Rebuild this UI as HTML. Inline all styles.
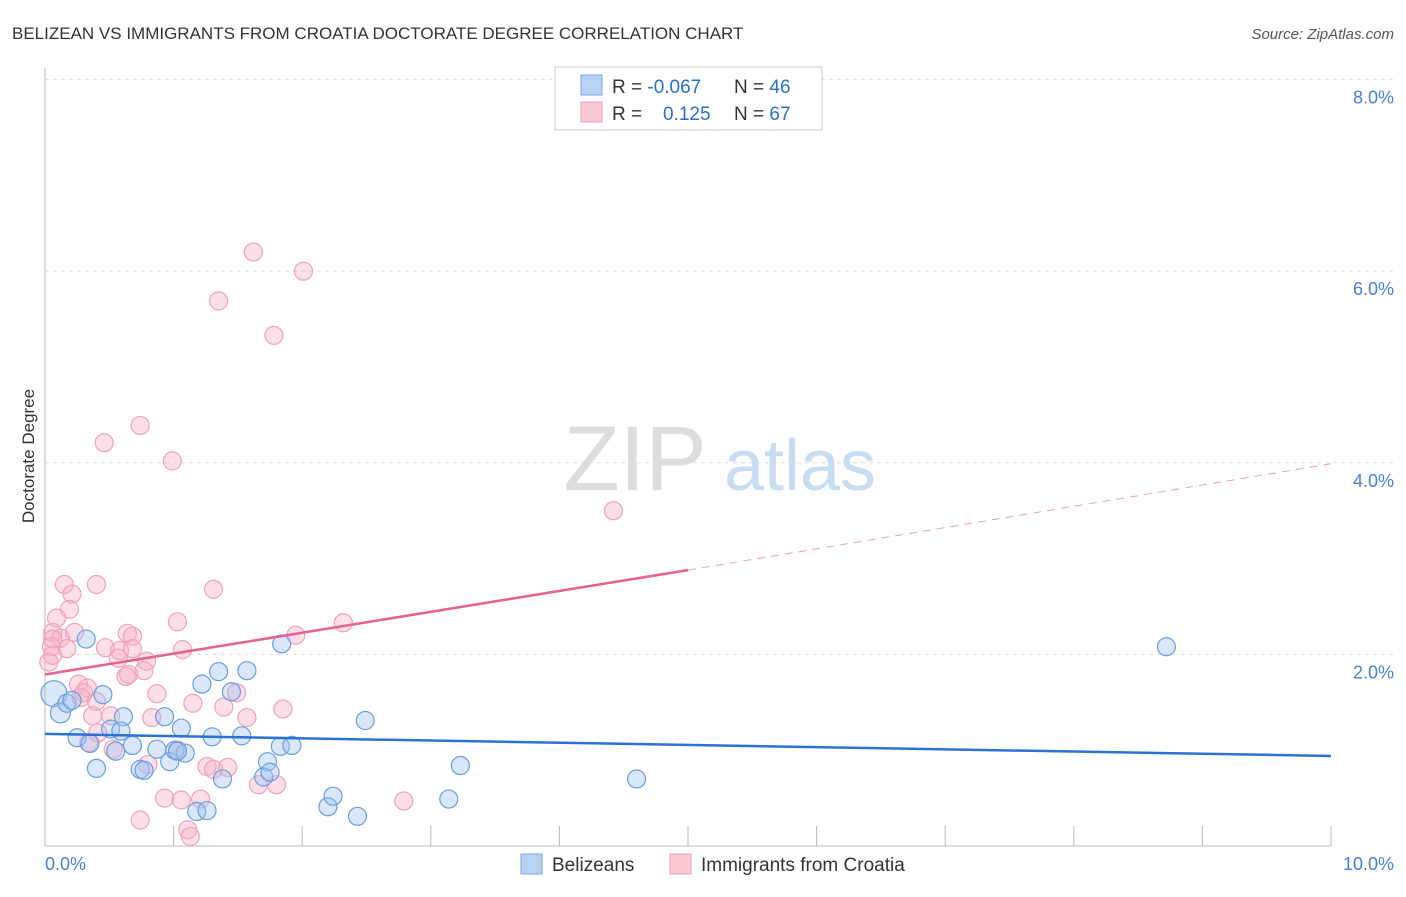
<!DOCTYPE html>
<html><head><meta charset="utf-8"><style>
body{margin:0;background:#fff;font-family:"Liberation Sans",sans-serif}
svg text{font-family:"Liberation Sans",sans-serif}
</style></head><body>
<svg id="c" width="1406" height="892" xmlns="http://www.w3.org/2000/svg">
<text x="12" y="39" font-size="17" fill="#333">BELIZEAN VS IMMIGRANTS FROM CROATIA DOCTORATE DEGREE CORRELATION CHART</text>
<text x="1394" y="39" font-size="15" fill="#555" text-anchor="end" font-style="italic">Source: ZipAtlas.com</text>
<text x="34" y="456" font-size="17" fill="#333" text-anchor="middle" transform="rotate(-90 34 456)">Doctorate Degree</text>
<g><text x="635" y="490" font-size="92" fill="#ddd" text-anchor="middle" font-family="Liberation Serif">ZIP</text><text x="800" y="490" font-size="72" fill="#c8dcf2" text-anchor="middle">atlas</text></g>
<g id="grid"></g><g id="marks"></g>
<g>
<rect x="555" y="67" width="267" height="63" fill="#fff" stroke="#ccc"/>
<rect x="581" y="75" width="21" height="20" fill="#b8d2f4" stroke="#7aa6e2"/>
<rect x="581" y="102" width="21" height="20" fill="#fbc8d6" stroke="#f0a0b8"/>
<text x="612" y="93" font-size="19" fill="#333">R = <tspan fill="#2a6fd0">-0.067</tspan></text>
<text x="734" y="93" font-size="19" fill="#333">N = <tspan fill="#2a6fd0">46</tspan></text>
<text x="612" y="120" font-size="19" fill="#333">R = <tspan fill="#2a6fd0" x="663">0.125</tspan></text>
<text x="734" y="120" font-size="19" fill="#333">N = <tspan fill="#2a6fd0">67</tspan></text>
</g>
<g>
<rect x="521" y="854" width="21" height="20" fill="#b8d2f4" stroke="#7aa6e2"/>
<text x="552" y="871" font-size="19" fill="#333">Belizeans</text>
<rect x="670" y="854" width="21" height="20" fill="#fbc8d6" stroke="#f0a0b8"/>
<text x="701" y="871" font-size="19" fill="#333">Immigrants from Croatia</text>
</g>
</svg>
<script>
const xTicks=[0,1,2,3,4,5,6,7,8,9,10];
const yTicks=[2,4,6,8];
const blueX=[0.32,1.84,0.07,0.12,0.17,0.21,0.45,0.25,0.35,0.40,0.51,0.61,0.59,0.55,0.68,0.74,0.77,0.87,0.93,0.97,1.01,1.06,1.09,1.22,1.30,1.35,1.38,1.45,1.53,1.57,1.73,1.70,1.75,1.83,1.92,2.20,2.24,2.43,2.49,3.14,3.23,4.60,8.72,1.18,1.26,1.03];
const blueY=[2.16,2.11,1.59,1.39,1.49,1.52,1.58,1.13,1.07,0.81,1.22,1.35,1.20,0.99,1.05,0.80,0.79,1.01,1.35,0.88,1.00,1.23,0.97,1.69,1.14,1.82,0.70,1.61,1.15,1.83,0.88,0.72,0.77,1.04,1.05,0.41,0.52,0.31,1.31,0.49,0.84,0.70,2.08,0.36,0.37,0.99];
const blueR=[9,9,13,10,9,9,9,9,9,9,9,9,9,9,9,9,9,9,9,9,9,9,9,9,9,9,9,9,9,9,9,9,9,9,9,9,9,9,9,9,9,9,9,9,9,9];
const pinkX=[0.15,0.40,0.21,0.19,0.09,0.06,0.12,0.23,0.17,0.05,0.06,0.03,0.06,0.64,0.68,0.47,0.58,0.57,0.68,0.79,0.77,0.63,0.65,1.07,1.03,1.31,0.46,0.74,0.99,1.35,1.62,2.01,1.78,4.42,2.32,1.95,0.26,0.33,0.28,0.40,0.37,0.51,0.30,0.87,0.83,1.15,1.49,1.39,1.57,1.85,0.41,0.53,0.34,0.80,1.03,1.26,1.31,1.42,1.66,1.80,0.93,1.06,1.21,2.79,0.74,1.11,1.13];
const pinkY=[2.73,2.73,2.63,2.47,2.38,2.23,2.17,2.23,2.06,2.08,1.99,1.92,2.16,2.22,2.19,2.07,2.04,1.96,2.06,1.93,1.83,1.77,1.79,2.05,2.34,2.68,4.21,4.39,4.02,5.69,6.20,6.00,5.33,3.50,2.33,2.20,1.69,1.65,1.55,1.51,1.36,1.36,1.60,1.59,1.34,1.49,1.60,1.45,1.34,1.43,1.18,1.01,1.08,0.85,1.00,0.83,0.80,0.82,0.64,0.64,0.50,0.48,0.49,0.47,0.27,0.17,0.10];
const blueLine=[[0,1.17],[10,0.94]];
const pinkLine=[[0,1.79],[5,2.88]];
const pinkDash=[[5,2.88],[10,3.99]];
const X=v=>45+v*128.6, Y=v=>846-v*95.8;
const NS="http://www.w3.org/2000/svg";
const grid=document.getElementById('grid'), marks=document.getElementById('marks');
function mk(tag,attrs,parent){const e=document.createElementNS(NS,tag);for(const k in attrs)e.setAttribute(k,attrs[k]);parent.appendChild(e);return e;}
let ax=mk('line',{x1:45,y1:846,x2:1331,y2:846,stroke:'#bbb'},grid);


let ay=mk('line',{x1:45,y1:68,x2:45,y2:846,stroke:'#bbb'},grid);


xTicks.forEach(t=>{let l=mk('line',{x1:X(t),y1:826,x2:X(t),y2:846,stroke:'#bbb'},grid);

});
[0,10].forEach(t=>{let tx=mk('text',{x:t==0?45:1394,y:870,'font-size':18,fill:'#4a7fd4','text-anchor':t==0?'start':'end'},grid);tx.textContent=t.toFixed(1)+'%';

});
yTicks.forEach(t=>{let l=mk('line',{x1:45,y1:Y(t),x2:1394,y2:Y(t),stroke:'#ddd','stroke-dasharray':'4,4'},grid);


let tx=mk('text',{x:1394,y:Y(t)+24,'font-size':18,fill:'#4a7fd4','text-anchor':'end'},grid);tx.textContent=t.toFixed(1)+'%';

});
pinkX.forEach((x,i)=>{let c=mk('circle',{cx:X(x),cy:Y(pinkY[i]),r:9,fill:'rgba(248,176,198,0.4)',stroke:'#f0a2ba','stroke-width':1.2},marks);

});
blueX.forEach((x,i)=>{let c=mk('circle',{cx:X(x),cy:Y(blueY[i]),r:blueR[i],fill:'rgba(160,196,240,0.4)',stroke:'#6a9de0','stroke-width':1.2},marks);

});
let bl=mk('line',{x1:X(blueLine[0][0]),y1:Y(blueLine[0][1]),x2:X(blueLine[1][0]),y2:Y(blueLine[1][1]),stroke:'#2a72d4','stroke-width':2.5},marks);


let pl=mk('line',{x1:X(pinkLine[0][0]),y1:Y(pinkLine[0][1]),x2:X(pinkLine[1][0]),y2:Y(pinkLine[1][1]),stroke:'#e8608e','stroke-width':2.5},marks);


let pd=mk('line',{x1:X(pinkDash[0][0]),y1:Y(pinkDash[0][1]),x2:X(pinkDash[1][0]),y2:Y(pinkDash[1][1]),stroke:'#eea0b8','stroke-width':1,'stroke-dasharray':'8,6'},marks);


</script>
</body></html>
